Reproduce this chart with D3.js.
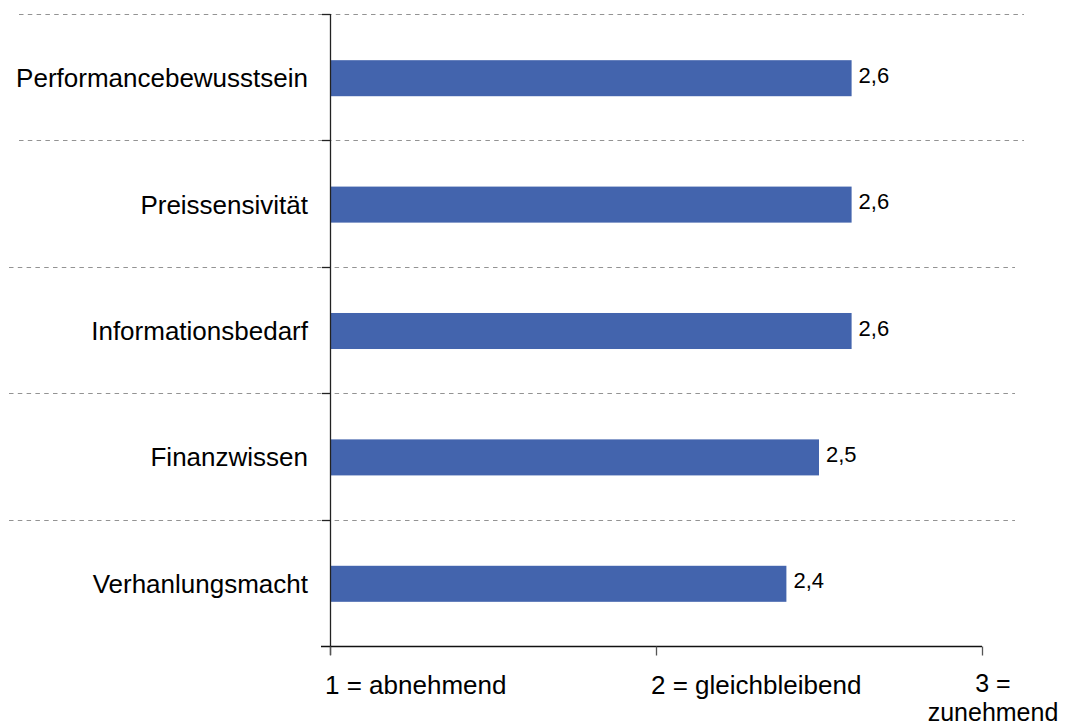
<!DOCTYPE html>
<html>
<head>
<meta charset="utf-8">
<script src="https://cdn.jsdelivr.net/npm/d3@7"></script>
<style>
  html, body { margin: 0; padding: 0; background: #fff; }
  svg { display: block; font-family: "Liberation Sans", Arial, sans-serif; }
</style>
</head>
<body>
<svg id="chart" width="1077" height="727"></svg>
<script>
// Einschätzung der Entwicklung (1 = abnehmend … 3 = zunehmend)
const categories = [
  "Performancebewusstsein",
  "Preissensivität",
  "Informationsbedarf",
  "Finanzwissen",
  "Verhanlungsmacht"
];
const values = [2.6, 2.6, 2.6, 2.5, 2.4];
const tickValues = [1, 2, 3];
const tickLabels = ["1 = abnehmend", "2 = gleichbleibend", "3 =\nzunehmend"];

const svg = d3.select("#chart");
const plot = { left: 330, right: 982, top: 14, bottom: 646 };

const x = d3.scaleLinear().domain([1, 3]).range([plot.left, plot.right]);
const y = d3.scaleBand().domain(categories).range([plot.top, plot.bottom]).padding(0);
const barH = y.bandwidth() * 0.285;

// dashed separators at band boundaries
const bounds = categories.map(c => y(c));
svg.append("g").selectAll("line").data(bounds).join("line")
  .attr("x1", (d, i) => i < 2 ? 19 : 9)
  .attr("x2", (d, i) => i < 2 ? 1024 : 1015)
  .attr("y1", d => Math.round(d) + 0.5)
  .attr("y2", d => Math.round(d) + 0.5)
  .attr("stroke", "#939393")
  .attr("stroke-width", 1.2)
  .attr("stroke-dasharray", "4.5,4.3");

// bars
svg.append("g").selectAll("rect").data(values).join("rect")
  .attr("x", x(1))
  .attr("y", (d, i) => y(categories[i]) + y.bandwidth() / 2 - barH / 2 + 1)
  .attr("width", d => x(d) - x(1))
  .attr("height", barH)
  .attr("fill", "#4364AD");

// value labels
svg.append("g").selectAll("text").data(values).join("text")
  .attr("x", d => x(d) + 7)
  .attr("y", (d, i) => y(categories[i]) + y.bandwidth() / 2 + 5.5)
  .attr("font-size", 22)
  .attr("fill", "#000")
  .text(d => d3.format(".1f")(d).replace(".", ","));

// y axis: line with ticks at band boundaries
const yAxis = svg.append("g");
yAxis.append("line")
  .attr("x1", plot.left + 0.5).attr("x2", plot.left + 0.5)
  .attr("y1", plot.top).attr("y2", plot.bottom + 9)
  .attr("stroke", "#222").attr("stroke-width", 1.3);
yAxis.selectAll("line.tick").data(bounds).join("line")
  .attr("class", "tick")
  .attr("x1", plot.left - 8).attr("x2", plot.left + 0.5)
  .attr("y1", d => Math.round(d) + 0.5)
  .attr("y2", d => Math.round(d) + 0.5)
  .attr("stroke", "#222").attr("stroke-width", 1.3);

// category labels
svg.append("g").selectAll("text").data(categories).join("text")
  .attr("x", 308)
  .attr("y", d => y(d) + y.bandwidth() / 2 + 10)
  .attr("text-anchor", "end")
  .attr("font-size", 26)
  .attr("fill", "#000")
  .text(d => d);

// x axis
const xAxis = d3.axisBottom(x)
  .tickValues(tickValues)
  .tickSize(9)
  .tickSizeOuter(0)
  .tickFormat("");
const gx = svg.append("g").attr("transform", `translate(0,${plot.bottom + 0.5})`).call(xAxis);
gx.select(".domain").attr("stroke", "#111").attr("stroke-width", 1.3)
  .attr("d", `M${plot.left - 9},0H${plot.right}`);
gx.selectAll(".tick line").attr("stroke", "#555").attr("stroke-width", 1.3);

// x tick labels (the last one wraps onto two lines, one text per line)
const xl = svg.append("g").attr("fill", "#000");
tickLabels.forEach((t, i) => {
  const lines = t.split("\n");
  const v = tickValues[i];
  const last = i === tickLabels.length - 1;
  const tx = last ? x(v) + 11 : x(v) - 5;
  lines.forEach((l, j) => {
    xl.append("text")
      .attr("x", tx)
      .attr("y", last ? 692 + j * 29 : 694)
      .attr("font-size", last ? 25 : 26)
      .attr("text-anchor", last ? "middle" : "start")
      .text(l);
  });
});
</script>
</body>
</html>
